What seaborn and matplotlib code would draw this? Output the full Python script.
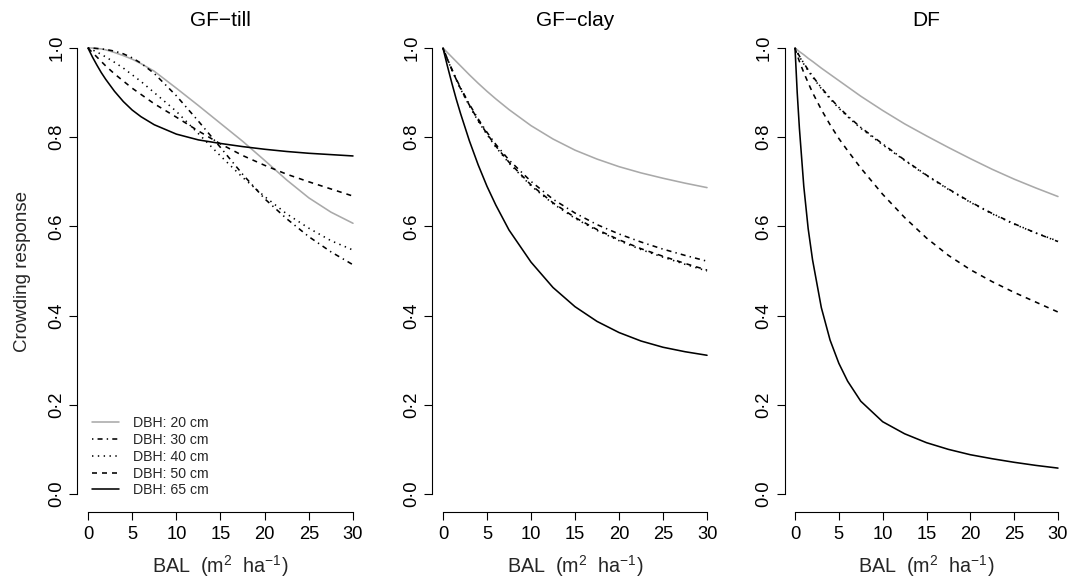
import numpy as np
import pandas as pd
import matplotlib
matplotlib.use("Agg")
import matplotlib.pyplot as plt
import seaborn as sns

# ---- data -------------------------------------------------------------
bal = [0, 0.25, 0.5, 1, 1.5, 2, 3, 4, 5, 6, 7.5, 10, 12.5, 15, 17.5, 20, 22.5, 25, 27.5, 30]

dbh_labels = ["DBH: 20 cm", "DBH: 30 cm", "DBH: 40 cm", "DBH: 50 cm", "DBH: 65 cm"]
panel_titles = ["GF\u2212till", "GF\u2212clay", "DF"]

till_20 = [1.0, 1.0, 1.0, 0.999, 0.998, 0.996, 0.99, 0.983, 0.975, 0.965, 0.948, 0.91, 0.871, 0.831, 0.791, 0.748, 0.704, 0.664, 0.632, 0.607]
till_30 = [1.0, 1.0, 1.0, 0.999, 0.998, 0.997, 0.993, 0.987, 0.978, 0.966, 0.943, 0.893, 0.836, 0.777, 0.717, 0.662, 0.617, 0.577, 0.543, 0.514]
till_40 = [1.0, 0.998, 0.996, 0.991, 0.986, 0.98, 0.968, 0.955, 0.94, 0.925, 0.9, 0.858, 0.808, 0.758, 0.71, 0.667, 0.628, 0.596, 0.568, 0.547]
till_50 = [1.0, 0.995, 0.99, 0.98, 0.97, 0.96, 0.942, 0.926, 0.91, 0.896, 0.875, 0.845, 0.814, 0.785, 0.759, 0.737, 0.717, 0.7, 0.684, 0.668]
till_65 = [1.0, 0.99, 0.98, 0.962, 0.945, 0.93, 0.903, 0.88, 0.861, 0.846, 0.828, 0.807, 0.794, 0.786, 0.779, 0.773, 0.768, 0.764, 0.761, 0.758]

clay_20 = [1.0, 0.995, 0.99, 0.98, 0.97, 0.96, 0.94, 0.921, 0.903, 0.886, 0.862, 0.826, 0.796, 0.771, 0.751, 0.734, 0.72, 0.708, 0.697, 0.687]
clay_30 = [1.0, 0.988, 0.976, 0.953, 0.931, 0.911, 0.874, 0.841, 0.811, 0.784, 0.749, 0.701, 0.661, 0.63, 0.604, 0.583, 0.565, 0.549, 0.535, 0.522]
clay_40 = [1.0, 0.987, 0.975, 0.951, 0.929, 0.908, 0.87, 0.836, 0.806, 0.778, 0.742, 0.691, 0.651, 0.618, 0.591, 0.568, 0.548, 0.531, 0.515, 0.5]
clay_50 = [1.0, 0.987, 0.975, 0.952, 0.93, 0.909, 0.872, 0.838, 0.808, 0.78, 0.744, 0.693, 0.653, 0.62, 0.593, 0.57, 0.55, 0.533, 0.517, 0.502]
clay_65 = [1.0, 0.98, 0.96, 0.922, 0.886, 0.853, 0.792, 0.738, 0.69, 0.648, 0.592, 0.52, 0.463, 0.42, 0.387, 0.362, 0.343, 0.329, 0.319, 0.311]

df_20 = [1.0, 0.996, 0.992, 0.985, 0.977, 0.97, 0.955, 0.941, 0.927, 0.913, 0.892, 0.86, 0.83, 0.803, 0.777, 0.752, 0.728, 0.706, 0.686, 0.667]
df_30 = [1.0, 0.991, 0.982, 0.966, 0.951, 0.937, 0.911, 0.888, 0.867, 0.848, 0.822, 0.785, 0.749, 0.715, 0.684, 0.655, 0.629, 0.606, 0.585, 0.566]
df_40 = [1.0, 0.99, 0.981, 0.964, 0.949, 0.935, 0.909, 0.886, 0.865, 0.846, 0.82, 0.783, 0.748, 0.714, 0.683, 0.654, 0.628, 0.605, 0.585, 0.567]
df_50 = [1.0, 0.984, 0.97, 0.945, 0.922, 0.9, 0.862, 0.828, 0.797, 0.77, 0.731, 0.672, 0.62, 0.574, 0.535, 0.503, 0.476, 0.452, 0.43, 0.408]
df_65 = [1.0, 0.9, 0.82, 0.69, 0.595, 0.525, 0.418, 0.345, 0.293, 0.253, 0.208, 0.162, 0.135, 0.115, 0.1, 0.088, 0.079, 0.071, 0.064, 0.058]

panels = [
    [till_20, till_30, till_40, till_50, till_65],
    [clay_20, clay_30, clay_40, clay_50, clay_65],
    [df_20, df_30, df_40, df_50, df_65],
]

x_ticks = [0, 5, 10, 15, 20, 25, 30]
y_ticks = [0.0, 0.2, 0.4, 0.6, 0.8, 1.0]

# ---- style ------------------------------------------------------------
sns.set_style("ticks")
plt.rcParams["font.family"] = ["Liberation Sans", "DejaVu Sans"]
plt.rcParams["mathtext.fontset"] = "custom"
plt.rcParams["mathtext.rm"] = "Liberation Sans"
plt.rcParams["mathtext.it"] = "Liberation Sans:italic"
plt.rcParams["mathtext.bf"] = "Liberation Sans:bold"
plt.rcParams["lines.scale_dashes"] = False

line_colors = {lab: c for lab, c in zip(dbh_labels, ["#a9a9a9", "black", "black", "black", "black"])}
line_dashes = {
    "DBH: 20 cm": "",
    "DBH: 30 cm": (1.0, 3.0, 3.6, 3.0),
    "DBH: 40 cm": (1.0, 3.2),
    "DBH: 50 cm": (3.6, 3.6),
    "DBH: 65 cm": "",
}

W, H = 1069, 577
fig = plt.figure(figsize=(W / 100, H / 100), dpi=100)
fig.patch.set_facecolor("white")

lefts_px = [77.4, 432.4, 784.5]
widths_px = [286.2, 285.2, 284.0]
top_px, bottom_px = 30.2, 511.8

for i, (series, title) in enumerate(zip(panels, panel_titles)):
    ax = fig.add_axes([lefts_px[i] / W, 1 - bottom_px / H,
                       widths_px[i] / W, (bottom_px - top_px) / H])
    long = pd.DataFrame({
        "BAL": np.tile(bal, len(dbh_labels)),
        "response": np.concatenate(series),
        "DBH": np.repeat(dbh_labels, len(bal)),
    })
    sns.lineplot(data=long, x="BAL", y="response", hue="DBH", style="DBH",
                 hue_order=dbh_labels, style_order=dbh_labels,
                 palette=line_colors, dashes=line_dashes, linewidth=1.15,
                 errorbar=None, legend=False, ax=ax)

    ax.set_xlim(-1.2, 31.2)
    ax.set_ylim(-0.04, 1.04)
    ax.set_xticks(x_ticks)
    ax.set_yticks(y_ticks)
    ax.set_yticklabels([f"{v:.1f}".replace(".", "\u00b7") for v in y_ticks],
                       rotation=90, va="center")
    ax.tick_params(axis="both", labelsize=13.2, length=5.5, width=0.8,
                   color="black", labelcolor="black", direction="out")
    ax.tick_params(axis="x", pad=4.5)
    ax.tick_params(axis="y", pad=3.0)
    for side in ["top", "right"]:
        ax.spines[side].set_visible(False)
    ax.spines["bottom"].set_bounds(0, 30)
    ax.spines["left"].set_bounds(0, 1)
    for side in ["bottom", "left"]:
        ax.spines[side].set_linewidth(0.8)
        ax.spines[side].set_color("black")
    ax.set_xlabel("")
    ax.set_ylabel("")
    ax.set_facecolor("white")

    ax.set_title(title, fontsize=15, pad=1.5, color="black")
    ax.text(0.5, (bottom_px - 572.5) / (bottom_px - top_px),
            r"BAL  (m$^{\mathregular{2}}$  ha$^{\mathregular{-1}}$)",
            transform=ax.transAxes, ha="center", va="baseline", fontsize=14.2)

    if i == 0:
        ax.legend(handles=ax.lines[:5], labels=dbh_labels, loc="lower left",
                  bbox_to_anchor=(0.051, 0.03), frameon=False, fontsize=10.2,
                  handlelength=1.9, handletextpad=1.0, labelspacing=0.2,
                  borderpad=0.0, borderaxespad=0.0)

fig.text(23 / W, 1 - ((top_px + bottom_px) / 2) / H, "Crowding response",
         rotation=90, ha="center", va="center", fontsize=13.5)

fig.savefig("out.png", dpi=100, facecolor="white")
